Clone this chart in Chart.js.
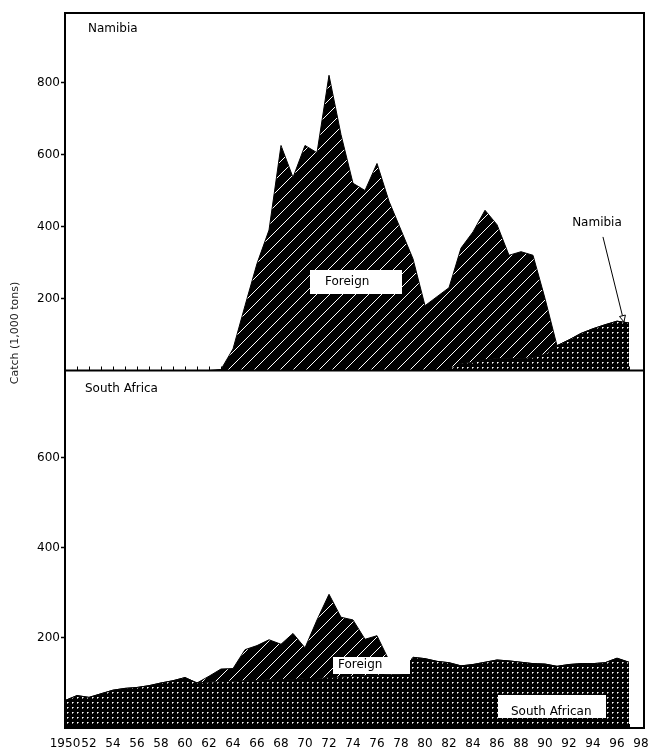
<!DOCTYPE html>
<html><head><meta charset="utf-8">
<script src="https://cdn.jsdelivr.net/npm/chart.js@4/dist/chart.umd.min.js"></script>
<style>html,body{margin:0;padding:0;background:#fff}#wrap{width:650px;height:751px;position:relative}canvas{display:block}</style>
</head><body><div id="wrap"><canvas id="c" width="650" height="751"></canvas></div>
<script>
// ---- data (1,000 tons) ----
const years = [1950,1951,1952,1953,1954,1955,1956,1957,1958,1959,1960,1961,1962,1963,1964,1965,1966,1967,1968,1969,1970,1971,1972,1973,1974,1975,1976,1977,1978,1979,1980,1981,1982,1983,1984,1985,1986,1987,1988,1989,1990,1991,1992,1993,1994,1995,1996,1997];
const namibiaDomestic = [0,0,0,0,0,0,0,0,0,0, 0,0,0,0,0,0,0,0,0,0, 0,0,0,0,0,0,0,0,0,0, 0,0,5,20,22,30,33,33,33,36, 45,69,85,103,116,127,137,132];
const namibiaForeign = [0,0,0,0,0,0,0,0,0,0, 0,0,0,3,60,180,297,390,625,536, 625,605,820,655,520,500,575,470,390,310, 180,205,225,320,363,415,372,287,297,284, 155,0,0,0,0,0,0,0];
const southAfricaDomestic = [61,72,68,76,84,88,90,94,100,105, 112,100,102,103,104,105,106,107,108,108, 110,110,112,113,115,116,117,118,118,157, 154,148,145,138,141,146,151,149,146,143, 142,137,141,143,143,145,155,146];
const southAfricaForeign = [0,0,0,0,0,0,0,0,0,0, 0,0,13,28,28,69,77,89,78,102, 68,130,185,133,125,81,88,32,0,0, 0,0,0,0,0,0,0,0,0,0, 0,0,0,0,0,0,0,0];
const xTickYears = [1950,1952,1954,1956,1958,1960,1962,1964,1966,1968,1970,1972,1974,1976,1978,1980,1982,1984,1986,1988,1990,1992,1994,1996,1998];
const namibiaTicks = [200,400,600,800];
const southAfricaTicks = [200,400,600];
const panelTitles = ['Namibia','South Africa'];
const yTitle = 'Catch (1,000 tons)';

const canvas = document.getElementById('c');
const ctx = canvas.getContext('2d');

function makeHatch(){
  const n=13;
  const t=document.createElement('canvas'); t.width=t.height=n;
  const g=t.getContext('2d'); g.fillStyle='#000'; g.fillRect(0,0,n,n);
  g.fillStyle='#fff'; for(let i=0;i<n;i++){ g.fillRect(i,n-1-i,1,1); }
  return ctx.createPattern(t,'repeat');
}
function makeDots(){
  const t=document.createElement('canvas'); t.width=t.height=5;
  const g=t.getContext('2d'); g.fillStyle='#000'; g.fillRect(0,0,5,5);
  g.fillStyle='#fff'; g.fillRect(2,2,1,1);
  g.fillStyle='#9a9a9a'; g.fillRect(3,2,1,1); g.fillRect(2,3,1,1);
  return ctx.createPattern(t,'repeat');
}
const hatch = makeHatch(), dots = makeDots();
const pts = arr => years.map((y,i)=>({x:y,y:arr[i]}));

const FONT = '"DejaVu Sans", sans-serif';

const decor = {
  id:'decor',
  beforeDatasetsDraw(chart){
    const c=chart.ctx, x=chart.scales.x;
    c.save(); c.strokeStyle='#000'; c.lineWidth=1;
    for(const id of ['yN','yS']){
      const b=chart.scales[id].bottom;
      for(const yr of years){ if(yr===1950) continue;
        const px=Math.round(x.getPixelForValue(yr))+0.5;
        c.beginPath(); c.moveTo(px,b); c.lineTo(px,b-4); c.stroke(); }
    }
    c.restore();
  },
  afterDatasetsDraw(chart){
    const c=chart.ctx, a=chart.chartArea, x=chart.scales.x, yN=chart.scales.yN, yS=chart.scales.yS;
    c.save();
    // frame
    c.strokeStyle='#000'; c.lineWidth=2;
    c.strokeRect(a.left, a.top, a.right-a.left, a.bottom-a.top);
    c.beginPath(); c.moveTo(a.left, yN.bottom); c.lineTo(a.right, yN.bottom); c.stroke();
    c.fillStyle='#000'; c.font='12px '+FONT; c.textBaseline='middle'; c.textAlign='left';
    c.fillText(panelTitles[0], a.left+23, yN.top+16);
    c.fillText(panelTitles[1], a.left+20, yS.top+18);
    // label boxes
    function box(xv, yv, scale, w, h, text, dx, dy){
      const cx=x.getPixelForValue(xv), cy=scale.getPixelForValue(yv);
      c.fillStyle='#fff'; c.fillRect(Math.round(cx-w/2), Math.round(cy-h/2), w, h);
      c.fillStyle='#000'; c.textAlign='left'; c.textBaseline='middle';
      c.fillText(text, Math.round(cx-w/2)+dx, cy+dy);
    }
    box(1974.25, 246, yN, 92, 24, 'Foreign', 15, 0);
    box(1975.54, 139, yS, 77, 17, 'Foreign', 5, -1);
    box(1990.58, 48, yS, 108, 23, 'South African', 13, 5);
    // Namibia arrow label
    const tx=x.getPixelForValue(1994.33), ty=yN.getPixelForValue(410);
    c.textAlign='center'; c.fillText('Namibia', tx, ty);
    const x0=x.getPixelForValue(1994.83), y0=yN.getPixelForValue(371);
    const x1=x.getPixelForValue(1996.58), y1=yN.getPixelForValue(135);
    c.lineWidth=1; c.strokeStyle='#000';
    c.beginPath(); c.moveTo(x0,y0); c.lineTo(x1,y1); c.stroke();
    const ang=Math.atan2(y1-y0,x1-x0), L=7, W=0.45;
    c.beginPath(); c.moveTo(x1,y1);
    c.lineTo(x1-L*Math.cos(ang-W), y1-L*Math.sin(ang-W));
    c.lineTo(x1-L*Math.cos(ang+W), y1-L*Math.sin(ang+W)); c.closePath();
    c.fillStyle='#fff'; c.fill(); c.stroke();
    // y title
    c.save(); c.translate(15, 333); c.rotate(-Math.PI/2);
    c.fillStyle='#222'; c.font='11px '+FONT; c.textAlign='center'; c.textBaseline='middle';
    c.fillText(yTitle, 0, 0); c.restore();
    c.restore();
  }
};

const yCommon = (ticksArr, max) => ({
  type:'linear', position:'left', stack:'panels', stackWeight:1, stacked:true,
  min:0, max:max,
  afterFit(s){ s.width=65; },
  afterBuildTicks(s){ s.ticks = ticksArr.map(v=>({value:v})); },
  ticks:{ color:'#000', font:{family:'DejaVu Sans', size:12}, padding:1 },
  grid:{ drawOnChartArea:false, drawTicks:true, tickLength:4, tickColor:'#000', tickWidth:1.5 },
  border:{ color:'#000', width:2 }
});

new Chart(ctx, {
  type:'line',
  data:{ datasets:[
    { label:'Namibia', data:pts(namibiaDomestic), yAxisID:'yN', xAxisID:'x', stack:'n', fill:'origin', backgroundColor:dots, borderColor:'#000', borderWidth:1 },
    { label:'Foreign', data:pts(namibiaForeign), yAxisID:'yN', xAxisID:'x', stack:'n', fill:'-1', backgroundColor:hatch, borderColor:'#000', borderWidth:1 },
    { label:'South African', data:pts(southAfricaDomestic), yAxisID:'yS', xAxisID:'x', stack:'s', fill:'origin', backgroundColor:dots, borderColor:'#000', borderWidth:1 },
    { label:'Foreign', data:pts(southAfricaForeign), yAxisID:'yS', xAxisID:'x', stack:'s', fill:'-1', backgroundColor:hatch, borderColor:'#000', borderWidth:1 }
  ]},
  options:{
    animation:false, responsive:false, devicePixelRatio:1,
    layout:{ padding:{ left:0, right:6, top:13, bottom:0 } },
    plugins:{ legend:{display:false}, tooltip:{enabled:false}, filler:{propagate:false} },
    elements:{ point:{radius:0}, line:{tension:0} },
    scales:{
      yS: yCommon(southAfricaTicks, 794),
      yN: yCommon(namibiaTicks, 993),
      x:{ type:'linear', position:'bottom', min:1950, max:1998.25,
        afterFit(s){ s.height=23; s.paddingLeft=0; s.paddingRight=0; },
        afterBuildTicks(s){ s.ticks = xTickYears.map(v=>({value:v})); },
        ticks:{ autoSkip:false, maxRotation:0, minRotation:0, color:'#000', padding:9,
          font:{family:'DejaVu Sans', size:12},
          callback:(v)=> v===1950 ? '1950' : String(v%100).padStart(2,'0') },
        grid:{ drawOnChartArea:false, drawTicks:false },
        border:{ color:'#000', width:2 } }
    }
  },
  plugins:[decor]
});
</script></body></html>
